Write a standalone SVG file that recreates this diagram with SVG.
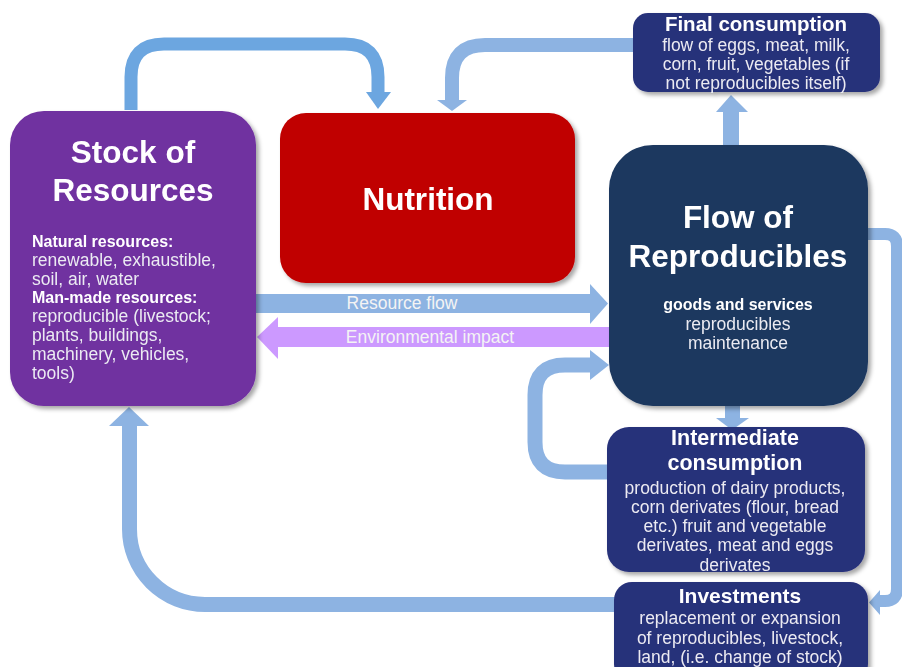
<svg xmlns="http://www.w3.org/2000/svg" width="902" height="667" viewBox="0 0 902 667">
<defs>
<filter id="sh" x="-10%" y="-10%" width="120%" height="120%">
<feDropShadow dx="3" dy="3" stdDeviation="2" flood-color="#000" flood-opacity="0.35"/>
</filter>
<style>
text{font-family:"Liberation Sans",Arial,sans-serif;fill:#ffffff}
.big{font-size:31.5px;font-weight:bold}
.h{font-size:21.5px;font-weight:bold}
.b{font-size:17.5px;fill:#ebebf2}
.bb{font-size:16px;font-weight:bold}
.c{text-anchor:middle}
.lb{stroke:#8DB3E2;fill:none}
.db{stroke:#6CA6E0;fill:none}
.fl{fill:#8DB3E2}
</style>
</defs>
<rect width="902" height="667" fill="#ffffff"/>

<g id="connectors">
<path class="db" stroke-width="13" d="M131 110 V77 Q131 44 164 44 H345 Q378 44 378 77 V93"/>
<polygon fill="#6CA6E0" points="366,92 391,92 378,109"/>
<path class="lb" stroke-width="14" d="M634 45 H485 Q452 45 452 78 V101"/>
<polygon class="fl" points="437,100 467,100 452,111"/>
<rect class="fl" x="723" y="111" width="16" height="35"/>
<polygon class="fl" points="716,112 748,112 731,95"/>
<rect class="fl" x="725" y="404" width="15" height="15"/>
<polygon class="fl" points="716,418 749,418 732,430"/>
<rect class="fl" x="256" y="294" width="335" height="19"/>
<polygon class="fl" points="590,284 608,303.5 590,324"/>
<text class="b c" x="402" y="309" style="fill:#f4f4f4">Resource flow</text>
<rect fill="#CC99FF" x="277" y="327" width="333" height="20"/>
<polygon fill="#CC99FF" points="278,317 257,337 278,359"/>
<text class="b c" x="430" y="343" style="fill:#f4f4f4">Environmental impact</text>
<path class="lb" stroke-width="15" d="M608 472 H565 Q535 472 535 442 V395 Q535 365 565 365 H592"/>
<polygon class="fl" points="590,350 609,365 590,380"/>
<path class="lb" stroke-width="12" d="M866 234 H885 Q897 234 897 246 V589 Q897 601 885 601 H878"/>
<polygon class="fl" points="880,590 869,602.5 880,615"/>
<path class="lb" stroke-width="15" d="M615 604.5 H205 A75.5 75.5 0 0 1 129.5 529 V425"/>
<polygon class="fl" points="109,426 149,426 129,407"/>
</g>

<g id="stock" filter="url(#sh)">
<rect x="10" y="111" width="246" height="295" rx="34" fill="#7030A0"/>
<text class="big c" x="133" y="163">Stock of</text>
<text class="big c" x="133" y="201">Resources</text>
<text class="bb" x="32" y="247">Natural resources:</text>
<text class="b" x="32" y="266">renewable, exhaustible,</text>
<text class="b" x="32" y="285">soil, air, water</text>
<text class="bb" x="32" y="303">Man-made resources:</text>
<text class="b" x="32" y="322">reproducible (livestock;</text>
<text class="b" x="32" y="341">plants, buildings,</text>
<text class="b" x="32" y="360">machinery, vehicles,</text>
<text class="b" x="32" y="379">tools)</text>
</g>

<g id="nutrition" filter="url(#sh)">
<rect x="280" y="113" width="295" height="170" rx="26" fill="#C00000"/>
<text class="big c" x="428" y="210">Nutrition</text>
</g>

<g id="flow" filter="url(#sh)">
<rect x="609" y="145" width="259" height="261" rx="44" fill="#1B375E"/>
<text class="big c" x="738" y="228">Flow of</text>
<text class="big c" x="738" y="267">Reproducibles</text>
<text class="bb c" x="738" y="310">goods and services</text>
<text class="b c" x="738" y="330">reproducibles</text>
<text class="b c" x="738" y="349">maintenance</text>
</g>

<g id="final" filter="url(#sh)">
<rect x="633" y="13" width="247" height="79" rx="15" fill="#28307A"/>
<text class="h c" x="756" y="31" style="font-size:20.5px">Final consumption</text>
<text class="b c" x="756" y="51">flow of eggs, meat, milk,</text>
<text class="b c" x="756" y="70">corn, fruit, vegetables (if</text>
<text class="b c" x="756" y="89">not reproducibles itself)</text>
</g>

<g id="intermediate" filter="url(#sh)">
<rect x="607" y="427" width="258" height="145" rx="22" fill="#28307A"/>
<text class="h c" x="735" y="445">Intermediate</text>
<text class="h c" x="735" y="470">consumption</text>
<text class="b c" x="735" y="494">production of dairy products,</text>
<text class="b c" x="735" y="513">corn derivates (flour, bread</text>
<text class="b c" x="735" y="532">etc.) fruit and vegetable</text>
<text class="b c" x="735" y="551">derivates, meat and eggs</text>
<text class="b c" x="735" y="571">derivates</text>
</g>

<g id="investments" filter="url(#sh)">
<rect x="614" y="582" width="254" height="100" rx="18" fill="#28307A"/>
<text class="h c" x="740" y="603" style="font-size:21px">Investments</text>
<text class="b c" x="740" y="624">replacement or expansion</text>
<text class="b c" x="740" y="644">of reproducibles, livestock,</text>
<text class="b c" x="740" y="663">land, (i.e. change of stock)</text>
</g>
</svg>
